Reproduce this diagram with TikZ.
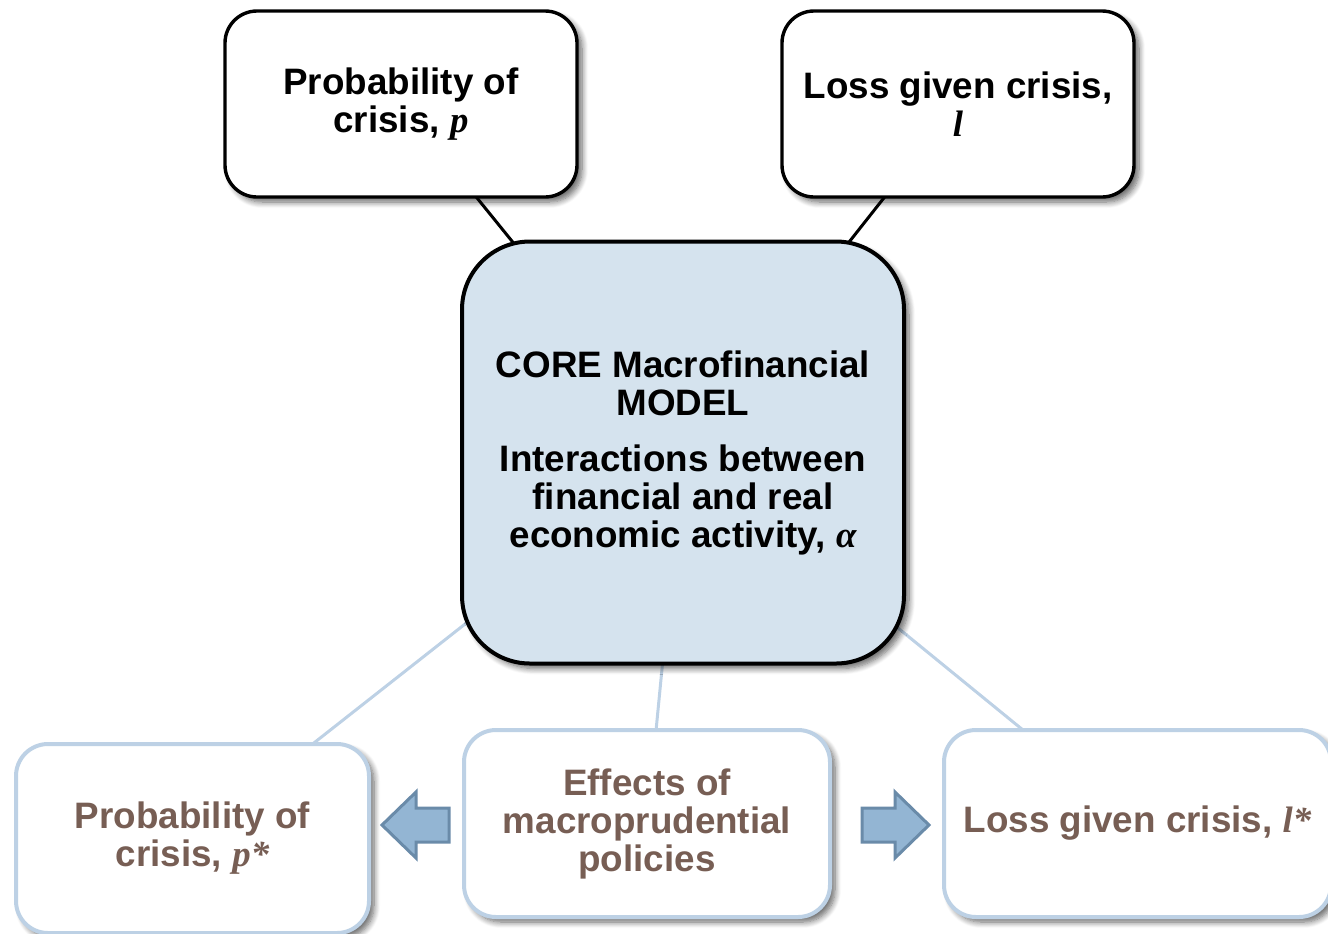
\documentclass[tikz,border=0pt]{standalone}
\usepackage{fontspec}
\setmainfont{Liberation Sans}
\newfontfamily\serifvar{Liberation Serif}
\usetikzlibrary{shadows.blur,backgrounds}

\definecolor{corefill}{HTML}{D5E3EE}
\definecolor{paleedge}{HTML}{BDD1E5}
\definecolor{arrowfill}{HTML}{93B5D3}
\definecolor{arrowedge}{HTML}{6A8BA9}
\definecolor{browntext}{HTML}{775E54}

\newcommand{\varsym}[1]{{\serifvar\bfseries\itshape #1}}

\tikzset{
  softshadow/.style={blur shadow={shadow xshift=2.5pt, shadow yshift=-2.5pt,
      shadow blur radius=3pt, shadow blur steps=8, shadow opacity=60}},
  labeltext/.style={font=\bfseries\fontsize{18.4}{19}\selectfont, align=center},
  topbox/.style={labeltext, draw=black, line width=1.7pt, fill=white,
      rounded corners=16pt, minimum width=176pt, minimum height=93pt, softshadow},
  corebox/.style={labeltext, draw=black, line width=2pt, fill=corefill,
      rounded corners=34pt, minimum width=221pt, minimum height=211pt, softshadow},
  effectbox/.style={labeltext, text=browntext, draw=paleedge, line width=2pt, fill=white,
      rounded corners=16pt, minimum height=93.5pt, softshadow},
  darklink/.style={draw=black, line width=1.5pt},
  palelink/.style={draw=paleedge, line width=1.5pt},
  blockarrow/.style={fill=arrowfill, draw=arrowedge, line width=1.5pt, line join=miter}
}

\begin{document}
\begin{tikzpicture}[x=0.5pt,y=-0.5pt]
  \useasboundingbox (0,0) rectangle (1328,933);

  % boxes
  \node[topbox] (prob) at (401,104) {Probability of\\crisis, \varsym{p}};
  \node[topbox] (loss) at (958,104) {Loss given crisis,\\\varsym{l}};
  \node[corebox] (core) at (683,452.5)
    {CORE Macrofinancial\\MODEL\\[9pt]Interactions between\\financial and real\\economic activity, \varsym{α}};
  \node[effectbox, minimum width=176.5pt, minimum height=94.5pt] (probstar) at (192.5,838.5)
    {Probability of\\crisis, \varsym{p*}};
  \node[effectbox, minimum width=183pt] (policy) at (647,823.5)
    {Effects of\\macroprudential\\policies};
  \node[effectbox, minimum width=193.5pt] (lossstar) at (1137.5,823.5)
    {Loss given crisis, \varsym{l*}};

  % connectors behind the boxes
  \begin{scope}[on background layer]
    \draw[darklink] (prob.center) -- (core.center);
    \draw[darklink] (loss.center) -- (core.center);
    \draw[palelink] (core.center) -- (probstar.center);
    \draw[palelink] (core.center) -- (policy.center);
    \draw[palelink] (core.center) -- (lossstar.center);
  \end{scope}

  % block arrows pointing away from the policy box
  \draw[blockarrow] (382,825) -- (416,792) -- (416,808) -- (449,808)
    -- (449,842) -- (416,842) -- (416,858) -- cycle;
  \draw[blockarrow] (929,825) -- (895,792) -- (895,808) -- (862,808)
    -- (862,842) -- (895,842) -- (895,858) -- cycle;
\end{tikzpicture}
\end{document}
